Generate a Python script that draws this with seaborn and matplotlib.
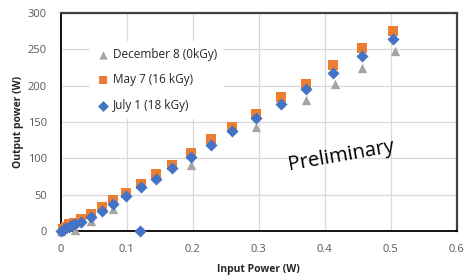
import matplotlib
matplotlib.use("Agg")
import matplotlib.pyplot as plt
import pandas as pd
import seaborn as sns

SERIES = ["December 8 (0kGy)", "May 7 (16 kGy)", "July 1 (18 kGy)"]

dec_x = [0.0, 0.022, 0.045, 0.079, 0.198, 0.295, 0.372, 0.415, 0.457, 0.507]
dec_y = [0, 1, 14, 30, 91, 143, 180, 202, 225, 248]

may_x = [0.003, 0.008, 0.013, 0.020, 0.031, 0.045, 0.062, 0.079, 0.098, 0.121,
         0.144, 0.169, 0.197, 0.227, 0.260, 0.295, 0.333, 0.371, 0.413, 0.457, 0.503]
may_y = [3, 6, 9, 11, 16, 24, 33, 43, 53, 65,
         78, 91, 107, 126, 143, 161, 185, 203, 228, 252, 276]

jul_x = [0.0, 0.003, 0.007, 0.012, 0.017, 0.022, 0.031, 0.045, 0.062, 0.079, 0.098,
         0.121, 0.144, 0.169, 0.197, 0.227, 0.260, 0.295, 0.333, 0.371, 0.413,
         0.457, 0.503, 0.120]
jul_y = [0, 2, 4, 6, 8, 10, 12, 19, 28, 37, 48,
         60, 72, 87, 102, 118, 137, 155, 175, 196, 218,
         241, 264, 0]

rows = []
for name, xs, ys in zip(SERIES, [dec_x, may_x, jul_x], [dec_y, may_y, jul_y]):
    for x, y in zip(xs, ys):
        rows.append({"series": name, "x": x, "y": y})
df = pd.DataFrame(rows)

sns.set_theme(style="white")
plt.rcParams["font.family"] = ["Open Sans", "DejaVu Sans"]

fig = plt.figure(figsize=(4.68, 2.78), dpi=100)
ax = fig.add_axes([0.130, 0.169, 0.846, 0.784])

palette = {SERIES[0]: "#a5a5a5", SERIES[1]: "#ed7d31", SERIES[2]: "#4472c4"}
markers = {SERIES[0]: "^", SERIES[1]: "s", SERIES[2]: "D"}
sizes = {SERIES[0]: 45, SERIES[1]: 42, SERIES[2]: 38}

for name in SERIES:
    sub = df[df["series"] == name]
    sns.scatterplot(data=sub, x="x", y="y", color=palette[name], marker=markers[name],
                    s=sizes[name], linewidth=0, ax=ax, label=name, zorder=3, clip_on=False)

ax.set_xlim(0, 0.6)
ax.set_ylim(0, 300)
ax.set_xticks([0, 0.1, 0.2, 0.3, 0.4, 0.5, 0.6])
ax.set_xticklabels(["0", "0.1", "0.2", "0.3", "0.4", "0.5", "0.6"])
ax.set_yticks([0, 50, 100, 150, 200, 250, 300])
ax.tick_params(axis="both", length=0, labelsize=8, labelcolor="#595959")
ax.tick_params(axis="x", pad=9)
ax.tick_params(axis="y", pad=10)
ax.grid(True, color="#d9d9d9", linewidth=0.9)
ax.set_axisbelow(True)
for side in ["left", "bottom"]:
    ax.spines[side].set_color("#000000")
    ax.spines[side].set_linewidth(1.3)
for side in ["top", "right"]:
    ax.spines[side].set_color("#404040")
    ax.spines[side].set_linewidth(1.6)

ax.set_xlabel("Input Power (W)", fontsize=7.5, fontweight="bold", labelpad=7)
ax.set_ylabel("Output power (W)", fontsize=7.5, fontweight="bold", labelpad=3)

leg = ax.legend(loc="upper left", bbox_to_anchor=(0.06, 0.9), frameon=True,
                fontsize=8.5, handlelength=1.0, handletextpad=0.3,
                labelspacing=1.05, borderpad=0.6, markerscale=0.9)
leg.get_frame().set_facecolor("white")
leg.get_frame().set_edgecolor("none")
leg.get_frame().set_alpha(1)

ax.text(0.707, 0.345, "Preliminary", transform=ax.transAxes, rotation=10,
        fontsize=14.5, ha="center", va="center", color="#000000")

fig.savefig("out.png", dpi=100)
